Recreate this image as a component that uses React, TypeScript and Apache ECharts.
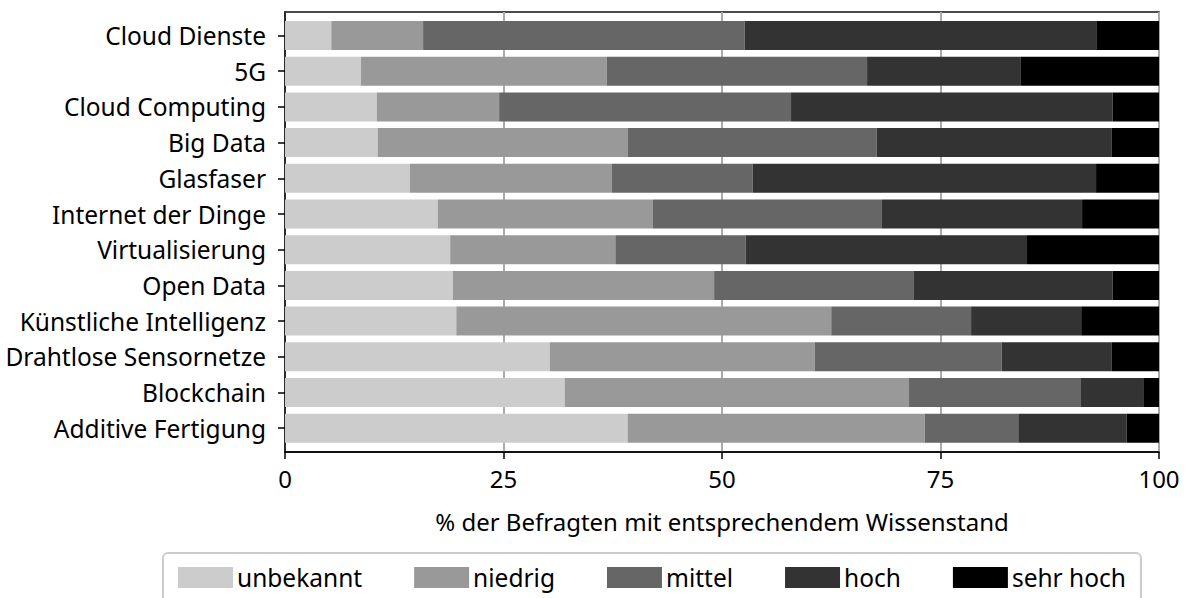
import React, { useEffect, useRef } from "react";
import * as echarts from "echarts";

const categories = [
  "Cloud Dienste",
  "5G",
  "Cloud Computing",
  "Big Data",
  "Glasfaser",
  "Internet der Dinge",
  "Virtualisierung",
  "Open Data",
  "Künstliche Intelligenz",
  "Drahtlose Sensornetze",
  "Blockchain",
  "Additive Fertigung",
];

const seriesNames = ["unbekannt", "niedrig", "mittel", "hoch", "sehr hoch"];
const seriesColors = ["#cccccc", "#999999", "#666666", "#333333", "#000000"];

const unbekannt = [5.3, 8.7, 10.5, 10.6, 14.3, 17.5, 18.9, 19.2, 19.6, 30.3, 32.0, 39.2];
const niedrig = [10.5, 28.1, 14.0, 28.6, 23.1, 24.6, 18.9, 29.9, 42.9, 30.3, 39.4, 34.0];
const mittel = [36.8, 29.8, 33.4, 28.5, 16.1, 26.2, 14.9, 22.8, 16.0, 21.4, 19.6, 10.7];
const hoch = [40.3, 17.6, 36.8, 26.9, 39.3, 22.9, 32.2, 22.8, 12.6, 12.6, 7.2, 12.4];
const sehrHoch = [7.1, 15.8, 5.3, 5.4, 7.2, 8.8, 15.1, 5.3, 8.9, 5.4, 1.8, 3.7];

const xTicks = [0, 25, 50, 75, 100];
const xAxisTitle = "% der Befragten mit entsprechendem Wissenstand";

const FONT = "'Noto Sans', sans-serif";

export default function App() {
  const ref = useRef<HTMLDivElement>(null);

  useEffect(() => {
    if (!ref.current) return;
    const chart = echarts.init(ref.current, undefined, { renderer: "svg" });
    const values = [unbekannt, niedrig, mittel, hoch, sehrHoch];
    const option: any = {
      animation: false,
      backgroundColor: "#ffffff",
      textStyle: { fontFamily: FONT },
      grid: [
        {
          left: 285,
          top: 12,
          width: 874,
          height: 440,
          show: true,
          borderColor: "#111",
          borderWidth: 1.5,
          backgroundColor: "transparent",
        },
        {
          left: 285,
          top: 17.65,
          width: 874,
          height: 428.4,
        },
      ],
      xAxis: [
        {
          gridIndex: 0,
          type: "value",
          min: xTicks[0],
          max: xTicks[xTicks.length - 1],
          interval: 25,
          axisLine: { show: true, lineStyle: { color: "#000", width: 1.5 } },
          axisTick: { show: true, length: 7, lineStyle: { color: "#000", width: 1.5 } },
          axisLabel: {
            show: true,
            fontSize: 24,
            color: "#000",
            fontFamily: FONT,
            margin: 14,
          },
          splitLine: { show: true, lineStyle: { color: "#aaa", width: 2 } },
          name: xAxisTitle,
          nameLocation: "middle",
          nameGap: 57,
          nameTextStyle: { fontSize: 24, color: "#000", fontFamily: FONT },
        },
        {
          gridIndex: 1,
          type: "value",
          min: 0,
          max: 100,
          show: false,
        },
      ],
      yAxis: [
        {
          gridIndex: 0,
          type: "value",
          min: 0,
          max: 1,
          axisLine: { show: true, lineStyle: { color: "#000", width: 1.5 } },
          axisTick: { show: false },
          axisLabel: { show: false },
          splitLine: { show: false },
        },
        {
          gridIndex: 1,
          type: "category",
          inverse: true,
          data: categories,
          axisLine: { show: false },
          axisTick: {
            show: true,
            alignWithLabel: true,
            length: 7,
            lineStyle: { color: "#000", width: 1.5 },
          },
          axisLabel: {
            fontSize: 24.5,
            color: "#000",
            fontFamily: FONT,
            margin: 19,
          },
          splitLine: { show: false },
        },
      ],
      legend: {
        data: seriesNames,
        left: 163,
        top: 553,
        icon: "rect",
        itemWidth: 55,
        itemHeight: 21,
        itemGap: 52,
        padding: [12, 15, 40, 15],
        borderColor: "#ccc",
        borderWidth: 2,
        borderRadius: 5,
        textStyle: { fontSize: 24.5, color: "#000", fontFamily: FONT, padding: [0, 0, 0, -1] },
      },
      series: seriesNames.map((name, i) => ({
        name,
        type: "bar",
        stack: "total",
        xAxisIndex: 1,
        yAxisIndex: 1,
        barWidth: 29,
        itemStyle: { color: seriesColors[i] },
        emphasis: { disabled: true },
        data: values[i],
      })),
    };
    chart.setOption(option);
    return () => chart.dispose();
  }, []);

  return (
    <div
      ref={ref}
      style={{ position: "fixed", left: 0, top: 0, width: 1188, height: 598, background: "#fff" }}
    />
  );
}
